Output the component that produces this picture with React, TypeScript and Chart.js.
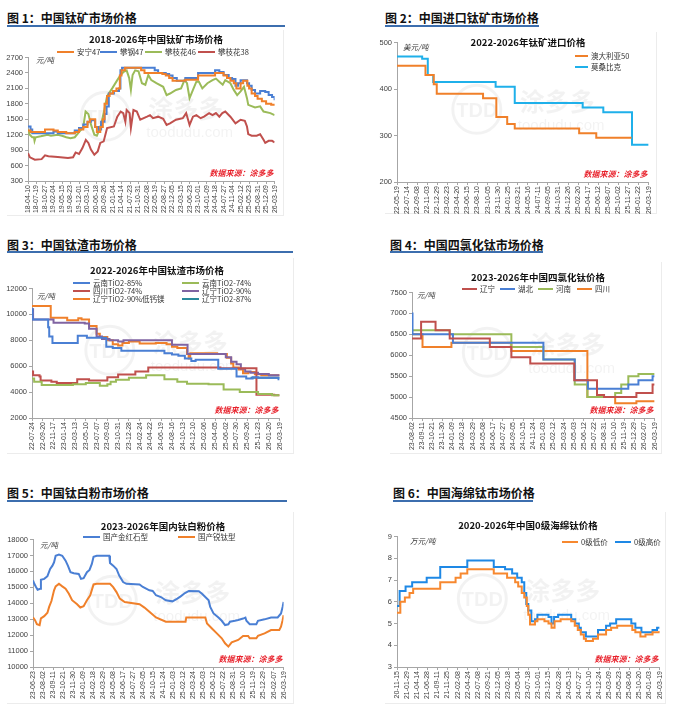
import React, { useEffect, useRef } from 'react';
import { Chart, registerables } from 'chart.js';
Chart.register(...registerables);

type Pt = [number, number];

// ---------------- Panel 1: 中国钛矿市场价格 ----------------
const p1Labels = ['18-04-10','18-07-19','18-10-27','19-02-04','19-05-15','19-08-23','19-12-01','20-03-10','20-06-18','20-09-26','21-01-04','21-04-14','21-07-23','21-10-31','22-02-08','22-05-19','22-08-27','22-12-05','23-03-15','23-06-23','23-10-01','24-01-09','24-04-18','24-07-27','24-11-04','25-02-12','25-05-23','25-08-31','25-12-09','26-03-19'];
const p1Anning47: Pt[] = [[0,1280],[0.3,1250],[2,1300],[3,1280],[3.5,1250],[4.5,1230],[5.5,1250],[6,1300],[6.5,1350],[7,1450],[7.3,1500],[7.9,1350],[8.1,1250],[8.5,1350],[8.8,1500],[9,1800],[9.3,1950],[9.6,2000],[10,2050],[10.4,2100],[10.8,2350],[11,2450],[11.4,2500],[13.3,2450],[13.7,2400],[15.8,2380],[16.2,2350],[16.6,2300],[17,2250],[18.5,2270],[20,2350],[22,2400],[23,2350],[23.4,2300],[23.8,2250],[24.2,2200],[24.5,2100],[25,2200],[25.3,2250],[25.8,2150],[26,2100],[26.3,2000],[26.7,1950],[27,1900],[27.5,1850],[28,1800],[28.6,1780],[29,1760]];
const p1Pangang47: Pt[] = [[0,1360],[0.3,1300],[0.5,1230],[3,1260],[3.5,1230],[5.5,1280],[6,1330],[6.5,1400],[7,1450],[7.4,1480],[7.9,1350],[8.3,1300],[8.6,1450],[9,1600],[9.24,1750],[9.5,2000],[10.1,2050],[10.7,2100],[10.87,2450],[11.06,2500],[14.9,2450],[15.3,2400],[16.2,2380],[16.6,2350],[17,2300],[17.5,2250],[18.5,2300],[20,2400],[22,2450],[22.5,2420],[23,2360],[23.6,2300],[24,2280],[24.4,2150],[24.7,2200],[25,2260],[25.75,2200],[26,2150],[26.3,2070],[26.7,2000],[27.3,2050],[27.9,2030],[28.3,1970],[28.7,1930],[29,1870]];
const p1Panzhihua46: Pt[] = [[0,1300],[0.2,1200],[0.5,1150],[0.7,1150],[0.77,1080],[0.9,1150],[1.5,1170],[2.3,1200],[2.7,1180],[3.5,1200],[4,1180],[4.5,1150],[5,1130],[5.5,1150],[6,1250],[6.5,1350],[6.77,1650],[7.1,1600],[7.4,1400],[7.8,1200],[8.1,1180],[8.4,1300],[8.6,1400],[9,1700],[9.3,1950],[9.9,2100],[10.5,2260],[10.9,2360],[11.25,2420],[11.6,2450],[11.9,2300],[12.1,2070],[12.3,2360],[12.6,2450],[13,2430],[13.4,2200],[13.8,2170],[14.15,2360],[14.5,2260],[15.1,2200],[15.9,2130],[16.3,1970],[16.7,2000],[17.4,2070],[18,2100],[18.4,2260],[18.7,2200],[19,1910],[19.4,2070],[19.8,2230],[20.1,2230],[20.5,2100],[21.1,2200],[21.7,2260],[22.1,2290],[22.5,2230],[22.9,2170],[23.2,2260],[23.8,2200],[24.2,2070],[24.6,1970],[25,2040],[25.4,2130],[25.75,1910],[25.9,1780],[26.7,1730],[27.3,1750],[27.7,1650],[28.5,1620],[29,1580]];
const p1Panzhihua38: Pt[] = [[0,840],[0.23,760],[0.8,715],[1.6,725],[2,800],[2.4,780],[3.5,765],[4.7,745],[5.3,760],[5.6,855],[6,825],[6.4,940],[6.8,1100],[7.1,1040],[7.4,910],[7.8,810],[8.2,875],[8.5,1040],[8.9,1070],[9.3,1330],[10.1,1360],[10.5,1550],[10.9,1650],[11.2,1620],[11.45,1450],[11.6,1680],[11.95,1620],[12.1,1330],[12.4,1680],[12.8,1650],[13.2,1490],[14,1550],[14.35,1580],[14.7,1520],[15.3,1550],[15.9,1510],[16.3,1390],[16.7,1420],[17.4,1490],[18.2,1520],[18.6,1620],[19,1390],[19.4,1550],[19.8,1580],[20.3,1520],[20.7,1550],[21.3,1620],[21.7,1580],[22.1,1620],[22.5,1550],[22.85,1620],[23.2,1650],[23.8,1550],[24.4,1420],[25,1490],[25.5,1470],[25.75,1360],[25.9,1210],[26.3,1180],[26.9,1180],[27.3,1210],[27.7,1100],[27.9,1040],[28.3,1080],[28.7,1080],[29,1050]];

// ---------------- Panel 2: 中国进口钛矿市场价格 ----------------
const p2Labels = ['22-05-19','22-07-14','22-09-08','22-11-03','22-12-29','23-02-23','23-04-20','23-06-15','23-08-10','23-10-05','23-11-30','24-01-25','24-03-21','24-05-16','24-07-11','24-09-05','24-10-31','24-12-26','25-02-20','25-04-17','25-06-12','25-08-07','25-10-02','25-11-27','26-01-22','26-03-19'];
const p2Australia50: Pt[] = [[0,450],[2.83,430],[3.65,410],[3.95,390],[8.55,380],[9.87,340],[10.95,325],[11.7,315],[18.1,305],[19.8,295],[23.3,295]];
const p2Mozambique: Pt[] = [[0,470],[2.5,465],[3.06,430],[3.6,415],[9.8,405],[11.7,370],[18.45,360],[20.5,350],[23.35,280],[25,280]];

// ---------------- Panel 3: 中国钛渣市场价格 ----------------
const p3Labels = ['22-07-24','22-09-20','22-11-17','23-01-14','23-03-13','23-05-10','23-07-07','23-09-03','23-10-31','23-12-28','24-02-24','24-04-22','24-06-19','24-08-16','24-10-13','24-12-10','25-02-06','25-04-05','25-06-02','25-07-30','25-09-26','25-11-23','26-01-20','26-03-19'];
const p3Yunnan85: Pt[] = [[0,10400],[0.05,9600],[1.5,9000],[1.6,8300],[1.9,7800],[4.25,8350],[5.1,8200],[6.9,7500],[7.5,7400],[8.3,7200],[12.3,7000],[13,6900],[13.6,6800],[14.2,6600],[14.8,6400],[15.2,6500],[17.3,5800],[19.0,5200],[19.9,5050],[20.5,5150],[21,5100],[22.9,5000],[23,5000]];
const p3Yunnan74: Pt[] = [[0,5050],[0.2,4800],[0.9,4550],[3.5,4550],[3.8,4600],[5.0,4700],[6.3,4500],[7.0,4600],[7.3,4800],[7.8,4950],[9.0,5100],[10.6,5300],[12.3,5000],[13.5,4800],[14.4,4650],[16.4,4600],[17.8,4200],[19.3,4000],[21.0,3850],[22.3,3750],[23,3750]];
const p3Sichuan74: Pt[] = [[0,5600],[0.1,5300],[0.7,5200],[0.8,4900],[1.8,4800],[2.3,4700],[4.2,5000],[5.3,4900],[7.0,5150],[8.0,5350],[9.6,5600],[10.8,5900],[17.5,5850],[20.85,3800],[22.5,3750],[23,3750]];
const p3Liaoning90: Pt[] = [[0,10400],[0.1,9600],[2.0,9350],[4.9,9300],[5.3,8900],[6.0,8300],[6.5,8100],[7.2,8000],[8.0,7900],[8.5,8000],[13.0,7650],[14.45,6950],[18.0,6700],[18.5,6350],[19.0,6150],[19.4,5800],[19.8,5600],[20.3,5500],[21.0,5400],[22.0,5300],[23,5300]];
const p3Liaoning90LowCaMg: Pt[] = [[0,10650],[1.74,9750],[3.27,9550],[4.3,9700],[4.6,9600],[5.3,9100],[6.0,8500],[6.3,8250],[7.0,8000],[7.5,7700],[8.0,7600],[8.4,7800],[9.0,7900],[10.0,7750],[11.5,7800],[12.5,7700],[13.0,7500],[13.5,7400],[14.4,6950],[14.55,6600],[14.7,7000],[17.2,6950],[18.1,6650],[18.5,6200],[18.7,5900],[19.2,5750],[19.6,5450],[20.1,5550],[20.7,5380],[21.3,5300],[23,5300]];
const p3Liaoning87: Pt[] = [[20.3,5100],[23,5100]];

// ---------------- Panel 4: 中国四氯化钛市场价格 ----------------
const p4Labels = ['23-08-02','23-09-11','23-10-21','23-11-30','24-01-09','24-02-18','24-03-29','24-05-08','24-06-17','24-07-27','24-09-05','24-10-15','24-11-24','25-01-03','25-02-12','25-03-24','25-05-03','25-06-12','25-07-22','25-08-31','25-10-10','25-11-19','25-12-29','26-02-07','26-03-19'];
const p4Liaoning: Pt[] = [[0,6400],[0.9,6800],[2.33,6600],[3.73,6400],[7.7,6200],[9.83,5950],[11.7,5800],[16.05,5400],[18.3,5050],[19.0,5000],[22.2,5100],[23.8,5300],[24,5300]];
const p4Hubei: Pt[] = [[0,7000],[0.05,6500],[4.05,6300],[13.0,5900],[16.1,5400],[17.4,5200],[21.4,5300],[22.4,5400],[23.8,5500],[24,5500]];
const p4Henan: Pt[] = [[0,6600],[3.73,6500],[9.83,6200],[13.0,5900],[16.1,5300],[17.35,5000],[20.1,5100],[20.7,5300],[21.4,5500],[22.4,5550],[24,5550]];
const p4Sichuan: Pt[] = [[0,6500],[1.04,6200],[3.9,6300],[9.83,6100],[17.35,5000],[20.1,4850],[22.2,4900],[24,4900]];

// ---------------- Panel 5: 中国钛白粉市场价格 ----------------
const p5Labels = ['23-06-23','23-08-02','23-09-11','23-10-21','23-11-30','24-01-09','24-02-18','24-03-29','24-05-08','24-06-17','24-07-27','24-09-05','24-10-15','24-11-24','25-01-03','25-02-12','25-03-24','25-05-03','25-06-12','25-07-22','25-08-31','25-10-10','25-11-19','25-12-29','26-02-07','26-03-19'];
const p5Rutile: Pt[] = [[0,15430],[0.13,15220],[0.3,15020],[0.46,14850],[0.72,14910],[0.79,15470],[1.12,15530],[1.44,15700],[1.71,16150],[1.94,16360],[2.1,16570],[2.26,16980],[2.59,17050],[2.92,16980],[3.25,16670],[3.48,16360],[3.74,15950],[4.07,15880],[4.56,15840],[4.79,15530],[5.05,15570],[5.38,15950],[5.64,16090],[5.87,16470],[6.04,16920],[6.36,16980],[7.61,16980],[7.68,16530],[8.0,16360],[8.33,16150],[8.6,15740],[8.99,15330],[9.32,15220],[10.63,15180],[10.96,15020],[11.61,14810],[11.94,14770],[12.27,14500],[12.76,14390],[13.25,14190],[13.91,14120],[14.4,14290],[14.73,14430],[15.16,14640],[15.55,14770],[16.54,14750],[16.86,14600],[17.19,14390],[17.52,14190],[17.68,13770],[18.01,13360],[18.5,13100],[18.83,12900],[19.16,12630],[19.49,12680],[19.65,12840],[20.14,12900],[20.47,12950],[20.96,13040],[21.19,13100],[21.29,12900],[21.62,12690],[22.28,12690],[22.44,12900],[23.1,12990],[23.75,13110],[24.41,13110],[24.74,13360],[24.9,13770],[25,14080]];
const p5Anatase: Pt[] = [[0,13110],[0.2,12940],[0.39,12690],[0.66,12630],[0.79,13050],[1.12,13190],[1.44,13400],[1.61,13770],[1.84,14140],[2.1,14810],[2.26,15060],[2.59,15220],[2.92,15060],[3.25,14910],[3.58,14600],[3.9,14190],[4.4,13940],[4.72,13730],[5.05,13810],[5.38,14190],[5.71,14500],[6.04,15180],[6.36,15220],[7.68,15220],[8.0,15010],[8.33,14700],[8.66,14290],[9.15,14080],[10.63,13940],[11.12,13730],[11.61,13460],[12.27,13110],[13.25,12840],[15.22,12840],[15.29,13110],[17.19,13110],[17.36,12730],[17.85,12420],[18.34,12110],[18.83,11800],[19.16,11490],[19.49,11280],[19.82,11550],[20.47,11700],[20.96,11950],[21.46,11950],[21.62,11800],[22.28,11800],[22.44,11950],[23.1,12110],[23.75,12320],[24.57,12320],[24.74,12530],[24.9,12940],[25,13250]];

// ---------------- Panel 6: 中国海绵钛市场价格 ----------------
const p6Labels = ['20-11-15','21-01-29','21-04-14','21-06-28','21-09-11','21-11-25','22-02-08','22-04-24','22-07-08','22-09-21','22-12-05','23-02-18','23-05-04','23-07-18','23-10-01','23-12-15','24-02-28','24-05-13','24-07-27','24-10-10','24-12-24','25-03-09','25-05-23','25-08-06','25-10-20','26-01-03','26-03-19'];
const p6Low: Pt[] = [[0,5.5],[0.33,6.0],[0.78,6.2],[1.24,6.4],[1.6,6.6],[4.28,6.9],[5.8,7.1],[6.3,7.3],[6.96,7.5],[9.58,7.3],[10.9,7.1],[11.7,6.9],[12.0,6.7],[12.35,6.4],[12.6,6.2],[12.85,5.8],[13.0,5.4],[13.17,4.95],[13.66,5.1],[13.9,5.2],[14.6,5.1],[15.0,5.0],[15.3,4.8],[15.6,5.1],[16.2,5.2],[17.25,5.1],[17.6,4.9],[17.9,4.7],[18.2,4.5],[18.5,4.3],[18.7,4.2],[19.4,4.3],[19.9,4.5],[20.7,4.7],[21.2,4.8],[21.8,4.9],[23.3,4.7],[23.6,4.6],[24.1,4.4],[24.6,4.5],[25.3,4.6],[26,4.65]];
const p6High: Pt[] = [[0,5.8],[0.26,6.5],[0.85,6.7],[1.5,6.9],[2.94,7.1],[4.28,7.6],[6.96,7.9],[9.58,7.6],[10.7,7.5],[11.4,7.3],[11.9,7.1],[12.35,6.9],[12.6,6.4],[12.8,5.9],[13.0,5.6],[13.3,5.1],[13.66,5.2],[13.9,5.4],[15.0,5.3],[15.3,5.0],[15.55,5.3],[15.95,5.4],[17.25,5.2],[17.65,5.0],[18.0,4.8],[18.2,4.6],[18.7,4.4],[19.9,4.7],[20.7,4.9],[21.1,5.0],[21.7,5.2],[23.2,5.0],[23.6,4.8],[24.2,4.6],[25.3,4.7],[25.75,4.8],[26,4.8]];

// ---------------- layout / style ----------------
type Series = { name: string; color: string; data: Pt[]; stepped: boolean; lx: number; ly: number };
type Panel = {
  header: string; hx: number; hy: number; ul: [number, number, number];
  title: string; tcx: number; tcy: number;
  unit: string; ux: number; uy: number;
  plot: { l: number; t: number; r: number; b: number };
  labels: string[]; yMin: number; yMax: number; yStep: number;
  series: Series[]; legendLine: number; legendFont: number;
  frame: [number, number, number, number];
};

const ORANGE = '#F0802A';
const BLUE = '#4A7FD4';
const GREEN = '#9BBB59';
const RED = '#C0504D';
const PURPLE = '#8064A2';
const TEAL = '#2B8A9C';
const SKY = '#1FB0EA';
const AXIS = '#a6a6a6';
const TICKC = '#404040';
const CJK = '"Noto Sans CJK SC", sans-serif';
const LAT = '"Liberation Sans", Arial, sans-serif';

const PANELS: Panel[] = [
  {
    header: '图 1：中国钛矿市场价格', hx: 7, hy: 18, ul: [7, 285, 25],
    title: '2018-2026年中国钛矿市场价格', tcx: 156, tcy: 39,
    unit: '元/吨', ux: 36, uy: 60,
    plot: { l: 28, t: 57, r: 278, b: 181 }, labels: p1Labels, yMin: 300, yMax: 2700, yStep: 300,
    series: [
      { name: '安宁47', color: ORANGE, data: p1Anning47, stepped: true, lx: 57, ly: 52 },
      { name: '攀钢47', color: BLUE, data: p1Pangang47, stepped: true, lx: 100, ly: 52 },
      { name: '攀枝花46', color: GREEN, data: p1Panzhihua46, stepped: false, lx: 145, ly: 52 },
      { name: '攀枝花38', color: RED, data: p1Panzhihua38, stepped: false, lx: 198, ly: 52 },
    ],
    legendLine: 17, legendFont: 7.5, frame: [7, 30, 283, 215],
  },
  {
    header: '图 2：中国进口钛矿市场价格', hx: 385, hy: 18, ul: [385, 539, 25],
    title: '2022-2026年钛矿进口价格', tcx: 528, tcy: 42,
    unit: '美元/吨', ux: 403, uy: 47,
    plot: { l: 397, t: 42, r: 652, b: 182 }, labels: p2Labels, yMin: 200, yMax: 500, yStep: 100,
    series: [
      { name: '澳大利亚50', color: ORANGE, data: p2Australia50, stepped: true, lx: 575, ly: 56 },
      { name: '莫桑比克', color: SKY, data: p2Mozambique, stepped: true, lx: 575, ly: 67 },
    ],
    legendLine: 13, legendFont: 7.5, frame: [385, 32, 656, 213],
  },
  {
    header: '图 3：中国钛渣市场价格', hx: 7, hy: 245, ul: [7, 293, 251],
    title: '2022-2026年中国钛渣市场价格', tcx: 157, tcy: 270,
    unit: '元/吨', ux: 37, uy: 296,
    plot: { l: 32, t: 288, r: 283, b: 418 }, labels: p3Labels, yMin: 2000, yMax: 12000, yStep: 2000,
    series: [
      { name: '云南TiO2-85%', color: BLUE, data: p3Yunnan85, stepped: true, lx: 73, ly: 283 },
      { name: '云南TiO2-74%', color: GREEN, data: p3Yunnan74, stepped: true, lx: 182, ly: 283 },
      { name: '四川TiO2-74%', color: RED, data: p3Sichuan74, stepped: true, lx: 73, ly: 291 },
      { name: '辽宁TiO2-90%', color: PURPLE, data: p3Liaoning90, stepped: true, lx: 182, ly: 291 },
      { name: '辽宁TiO2-90%低钙镁', color: ORANGE, data: p3Liaoning90LowCaMg, stepped: true, lx: 73, ly: 299 },
      { name: '辽宁TiO2-87%', color: TEAL, data: p3Liaoning87, stepped: true, lx: 182, ly: 299 },
    ],
    legendLine: 17, legendFont: 7.5, frame: [7, 258, 293, 453],
  },
  {
    header: '图 4：中国四氯化钛市场价格', hx: 390, hy: 245, ul: [390, 543, 251],
    title: '2023-2026年中国四氯化钛价格', tcx: 538, tcy: 277,
    unit: '元/吨', ux: 417, uy: 295,
    plot: { l: 412, t: 292, r: 658, b: 418 }, labels: p4Labels, yMin: 4500, yMax: 7500, yStep: 500,
    series: [
      { name: '辽宁', color: RED, data: p4Liaoning, stepped: true, lx: 462, ly: 289 },
      { name: '湖北', color: BLUE, data: p4Hubei, stepped: true, lx: 500, ly: 289 },
      { name: '河南', color: GREEN, data: p4Henan, stepped: true, lx: 538, ly: 289 },
      { name: '四川', color: ORANGE, data: p4Sichuan, stepped: true, lx: 577, ly: 289 },
    ],
    legendLine: 15, legendFont: 7.5, frame: [390, 262, 661, 453],
  },
  {
    header: '图 5：中国钛白粉市场价格', hx: 7, hy: 493, ul: [7, 287, 500],
    title: '2023-2026年国内钛白粉价格', tcx: 163, tcy: 526,
    unit: '元/吨', ux: 40, uy: 545,
    plot: { l: 33, t: 539, r: 287, b: 667 }, labels: p5Labels, yMin: 10000, yMax: 18000, yStep: 1000,
    series: [
      { name: '国产金红石型', color: BLUE, data: p5Rutile, stepped: false, lx: 83, ly: 537 },
      { name: '国产锐钛型', color: ORANGE, data: p5Anatase, stepped: false, lx: 178, ly: 537 },
    ],
    legendLine: 17, legendFont: 7.5, frame: [7, 512, 293, 703],
  },
  {
    header: '图 6：中国海绵钛市场价格', hx: 393, hy: 493, ul: [393, 533, 500],
    title: '2020-2026年中国0级海绵钛价格', tcx: 528, tcy: 525,
    unit: '万元/吨', ux: 410, uy: 541,
    plot: { l: 397, t: 536, r: 663, b: 667 }, labels: p6Labels, yMin: 3, yMax: 9, yStep: 1,
    series: [
      { name: '0级低价', color: '#F7882F', data: p6Low, stepped: true, lx: 562, ly: 542 },
      { name: '0级高价', color: '#1E88E5', data: p6High, stepped: true, lx: 615, ly: 542 },
    ],
    legendLine: 16, legendFont: 7.5, frame: [385, 512, 665, 703],
  },
];

const W_Y = 28;
const H_X = 36;
const PAD_T = 6;
const PAD_R = 6;

const overlayPlugin = {
  id: 'overlay',
  beforeDatasetsDraw(chart: any) {
    const { ctx, chartArea: ca } = chart;
    const cx = (ca.left + ca.right) / 2;
    const cy = (ca.top + ca.bottom) / 2;
    ctx.save();
    ctx.fillStyle = 'rgba(0,0,0,0.05)';
    ctx.strokeStyle = 'rgba(0,0,0,0.05)';
    ctx.lineWidth = 3;
    ctx.beginPath();
    ctx.arc(cx - 46, cy - 3, 24, 0, Math.PI * 2);
    ctx.stroke();
    ctx.textAlign = 'center';
    ctx.textBaseline = 'middle';
    ctx.font = `bold 20px ${LAT}`;
    ctx.fillText('TDD', cx - 46, cy - 1);
    ctx.textAlign = 'left';
    ctx.font = `bold 25px ${CJK}`;
    ctx.fillText('涂多多', cx - 3, cy - 11);
    ctx.font = `15px ${LAT}`;
    ctx.fillText('toodudu.com', cx - 5, cy + 14);
    ctx.restore();
  },
  afterDatasetsDraw(chart: any) {
    const { ctx, chartArea: ca } = chart;
    ctx.save();
    ctx.fillStyle = '#E8202A';
    ctx.font = `italic bold 8px ${CJK}`;
    ctx.textAlign = 'right';
    ctx.textBaseline = 'middle';
    ctx.fillText('数据来源：涂多多', ca.right - 1, ca.bottom - 8);
    ctx.restore();
  },
};

function PanelChart({ p }: { p: Panel }) {
  const ref = useRef<HTMLCanvasElement>(null);
  const left = p.plot.l - W_Y;
  const top = p.plot.t - PAD_T;
  const width = p.plot.r + PAD_R - left;
  const height = p.plot.b + H_X - top;
  useEffect(() => {
    const labels = p.labels;
    const chart = new Chart(ref.current as HTMLCanvasElement, {
      type: 'line',
      data: {
        datasets: p.series.map((s) => ({
          label: s.name,
          data: s.data.map(([x, y]) => ({ x, y })),
          borderColor: s.color,
          backgroundColor: s.color,
          borderWidth: 2,
          pointRadius: 0,
          stepped: s.stepped ? 'before' : false,
          tension: 0,
          fill: false,
        })),
      } as any,
      options: {
        animation: false,
        responsive: true,
        maintainAspectRatio: false,
        layout: { padding: { top: PAD_T, right: PAD_R, left: 0, bottom: 0 } },
        plugins: { legend: { display: false }, title: { display: false }, tooltip: { enabled: false } },
        scales: {
          x: {
            type: 'linear',
            min: 0,
            max: labels.length - 1,
            afterBuildTicks: (s: any) => {
              s.ticks = labels.map((_, i) => ({ value: i }));
            },
            afterFit: (s: any) => {
              s.height = H_X;
            },
            ticks: {
              autoSkip: false,
              maxRotation: 90,
              minRotation: 90,
              padding: 1,
              color: TICKC,
              font: { family: LAT, size: 7 },
              callback: (v: any) => labels[Math.round(Number(v))] ?? '',
            },
            grid: { drawOnChartArea: false, drawTicks: true, tickLength: 3, color: AXIS },
            border: { color: AXIS },
          },
          y: {
            min: p.yMin,
            max: p.yMax,
            afterFit: (s: any) => {
              s.width = W_Y;
            },
            ticks: {
              stepSize: p.yStep,
              padding: 2,
              color: TICKC,
              font: { family: LAT, size: 7.5 },
              callback: (v: any) => String(v),
            },
            grid: { drawOnChartArea: false, drawTicks: true, tickLength: 3, color: AXIS },
            border: { color: AXIS },
          },
        },
      } as any,
      plugins: [overlayPlugin],
    });
    return () => chart.destroy();
  }, [p]);

  const [fl, ft, fr, fb] = p.frame;
  return (
    <>
      <div style={{ position: 'absolute', left: fr, top: ft, width: 1, height: fb - ft, background: '#ececec' }} />
      <div style={{ position: 'absolute', left: fl, top: fb, width: fr - fl + 1, height: 1, background: '#ececec' }} />
      <div style={{ position: 'absolute', left, top, width, height }}>
        <canvas ref={ref} />
      </div>
      <div style={{ position: 'absolute', left: p.hx, top: p.hy - 9, font: `bold 12px ${CJK}`, lineHeight: '18px', color: '#111', whiteSpace: 'nowrap' }}>
        {p.header}
      </div>
      <div style={{ position: 'absolute', left: p.ul[0], top: p.ul[2], width: p.ul[1] - p.ul[0], height: 1.5, background: '#3C6EAE' }} />
      <div style={{ position: 'absolute', left: p.tcx - 100, width: 200, top: p.tcy - 7, textAlign: 'center', font: `bold 9.5px ${CJK}`, lineHeight: '14px', color: '#111', whiteSpace: 'nowrap' }}>
        {p.title}
      </div>
      <div style={{ position: 'absolute', left: p.ux, top: p.uy - 6, font: `italic 7.5px ${CJK}`, lineHeight: '12px', color: '#333', whiteSpace: 'nowrap' }}>
        {p.unit}
      </div>
      {p.series.map((s) => (
        <React.Fragment key={s.name}>
          <div style={{ position: 'absolute', left: s.lx, top: s.ly - 1, width: p.legendLine, height: 2.2, background: s.color }} />
          <div style={{ position: 'absolute', left: s.lx + p.legendLine + 3, top: s.ly - 6, font: `${p.legendFont}px ${CJK}`, lineHeight: '12px', color: '#333', whiteSpace: 'nowrap' }}>
            {s.name}
          </div>
        </React.Fragment>
      ))}
    </>
  );
}

export default function App() {
  return (
    <div style={{ position: 'absolute', left: 0, top: 0, width: 677, height: 715, background: '#fff', overflow: 'hidden' }}>
      {PANELS.map((p, i) => (
        <PanelChart key={i} p={p} />
      ))}
    </div>
  );
}
